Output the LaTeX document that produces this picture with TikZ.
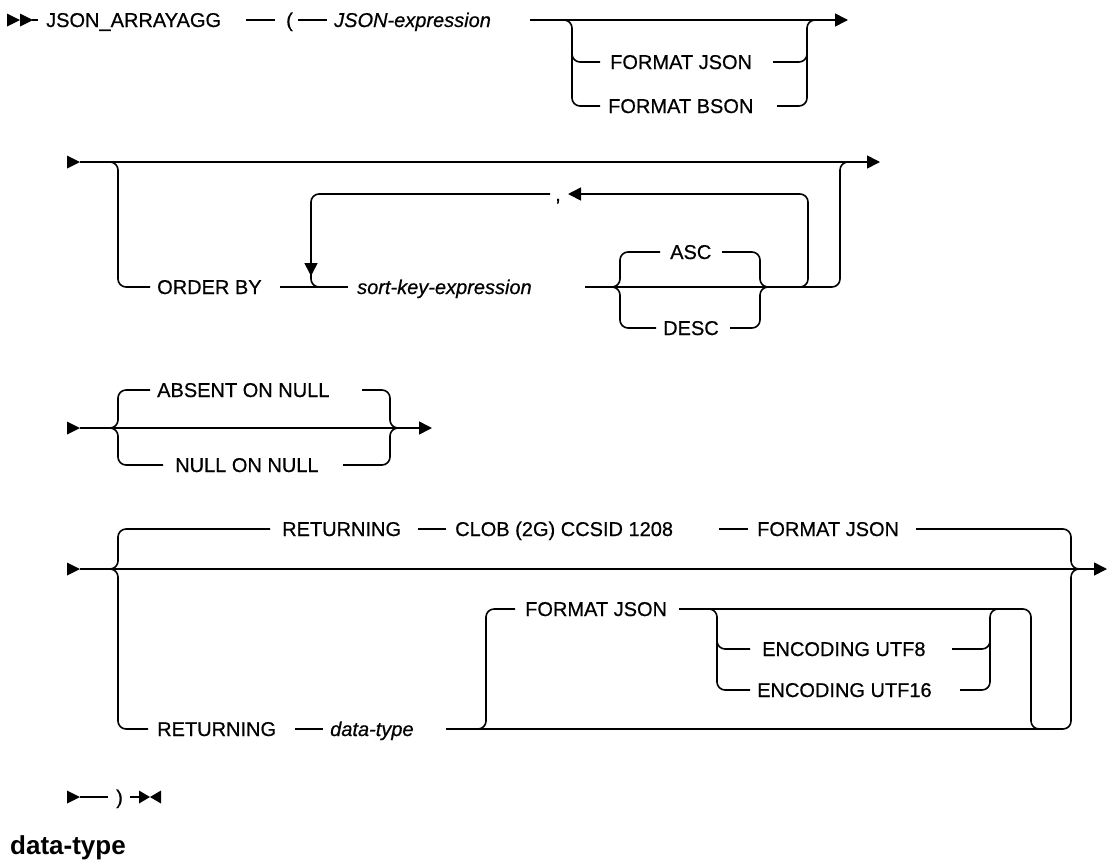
\documentclass[tikz,border=0pt]{standalone}
\usepackage{fontspec}
\setmainfont{Liberation Sans}
\newfontfamily\railfont{Liberation Sans}[FakeBold=0.6]
\usetikzlibrary{arrows.meta}
\newcommand\railstart[2]{\fill (#1-13,#2-6.5) -- (#1,#2) -- (#1-13,#2+6.5) -- cycle;}
\begin{document}
\begin{tikzpicture}[x=1pt,y=-1pt,
 rail/.style={line width=1.6pt, rounded corners=8pt},
 tip/.style={-{Triangle[length=13pt,width=13pt]}},
 kw/.style={anchor=west, inner sep=0pt, text height=14pt, text depth=0pt, font=\fontsize{20}{24}\railfont},
 var/.style={kw, font=\fontsize{20}{24}\railfont\itshape},
 head/.style={anchor=base west, inner sep=0pt, font=\fontsize{26}{30}\selectfont\bfseries}]
\useasboundingbox (0,0) rectangle (1107,863);

% ---------- row 1
\fill (7,13.5) -- (20,20) -- (7,26.5) -- cycle;
\fill (20,13.5) -- (33,20) -- (20,26.5) -- cycle;
\draw[rail] (32,20) -- (38,20);
\node[kw] (jaa) at (46,20) {JSON\_ARRAYAGG};
\draw[rail] (246,20) -- (275,20);
\node[kw] (lp) at (286,20) {(};
\draw[rail] (298,20) -- (327,20);
\node[var] (jexpr) at (334,20) {JSON-expression};
\draw[rail,tip] (530,20) -- (848,20);
\draw[rail] (560,20) -- (572,20) -- (572,106) -- (600,106);
\draw[rail] (572,50) -- (572,62) -- (600,62);
\node[kw] (fj1) at (610,62) {FORMAT JSON};
\node[kw] (fb1) at (608,106) {FORMAT BSON};
\draw[rail] (773,62) -- (807,62) -- (807,50);
\draw[rail] (777,106) -- (807,106) -- (807,20) -- (820,20);

% ---------- row 2
\railstart{80}{162}
\draw[rail,tip] (80,162) -- (880,162);
\draw[rail] (105,162) -- (118,162) -- (118,287) -- (150,287);
\node[kw] (ob) at (157,287) {ORDER BY};
\draw[rail] (280,287) -- (348,287);
\node[var] (ske) at (357,287) {sort-key-expression};
\draw[rail] (585,287) -- (840,287) -- (840,162) -- (855,162);
\draw[rail] (608,287) -- (620,287) -- (620,252) -- (660,252);
\draw[rail] (608,287) -- (620,287) -- (620,328) -- (656,328);
\node[kw] (asc) at (670,252) {ASC};
\node[kw] (desc) at (663,328) {DESC};
\draw[rail] (722,252) -- (760,252) -- (760,287) -- (772,287);
\draw[rail] (730,328) -- (760,328) -- (760,287) -- (772,287);
\draw[rail,tip] (795,287) -- (808,287) -- (808,194) -- (568,194);
\node[kw] (comma) at (555,194) {,};
\draw[rail,tip] (550,194) -- (311,194) -- (311,276);
\draw[rail] (311,265) -- (311,287) -- (335,287);

% ---------- row 3
\railstart{80}{428}
\draw[rail,tip] (80,428) -- (432,428);
\draw[rail] (105,428) -- (118,428) -- (118,390) -- (150,390);
\draw[rail] (105,428) -- (118,428) -- (118,465) -- (163,465);
\node[kw] (abs) at (157,390) {ABSENT ON NULL};
\node[kw] (non) at (175,465) {NULL ON NULL};
\draw[rail] (362,390) -- (390,390) -- (390,428) -- (402,428);
\draw[rail] (343,465) -- (390,465) -- (390,428) -- (402,428);

% ---------- row 4
\railstart{80}{569}
\draw[rail,tip] (80,569) -- (1107,569);
\draw[rail] (105,569) -- (118,569) -- (118,529) -- (270,529);
\draw[rail] (105,569) -- (118,569) -- (118,729) -- (148,729);
\node[kw] (ret1) at (282,529) {RETURNING};
\draw[rail] (418,529) -- (446,529);
\node[kw] (clob) at (455,529) {CLOB (2G) CCSID 1208};
\draw[rail] (719,529) -- (748,529);
\node[kw] (fj2) at (757,529) {FORMAT JSON};
\draw[rail] (916,529) -- (1071,529) -- (1071,569) -- (1085,569);
\node[kw] (ret2) at (157,729) {RETURNING};
\draw[rail] (295,729) -- (323,729);
\node[var] (dt) at (330,729) {data-type};
\draw[rail] (446,729) -- (1071,729) -- (1071,569) -- (1085,569);
\draw[rail] (470,729) -- (486,729) -- (486,609) -- (515,609);
\node[kw] (fj3) at (525,609) {FORMAT JSON};
\draw[rail] (679,609) -- (1031,609) -- (1031,729) -- (1045,729);
\draw[rail] (705,609) -- (717,609) -- (717,690) -- (750,690);
\draw[rail] (717,640) -- (717,649) -- (750,649);
\node[kw] (u8) at (762,649) {ENCODING UTF8};
\node[kw] (u16) at (757,690) {ENCODING UTF16};
\draw[rail] (952,649) -- (990,649) -- (990,640);
\draw[rail] (960,690) -- (990,690) -- (990,609) -- (1002,609);

% ---------- row 5
\railstart{80}{797}
\draw[rail] (80,797) -- (108,797);
\node[kw] (rp) at (116,797) {)};
\draw[rail] (130,797) -- (140,797);
\fill (139,790.5) -- (150,797) -- (139,803.5) -- cycle;
\fill (161,790.5) -- (150,797) -- (161,803.5) -- cycle;

\node[head] (hdr) at (10,854) {data-type};
\end{tikzpicture}
\end{document}
